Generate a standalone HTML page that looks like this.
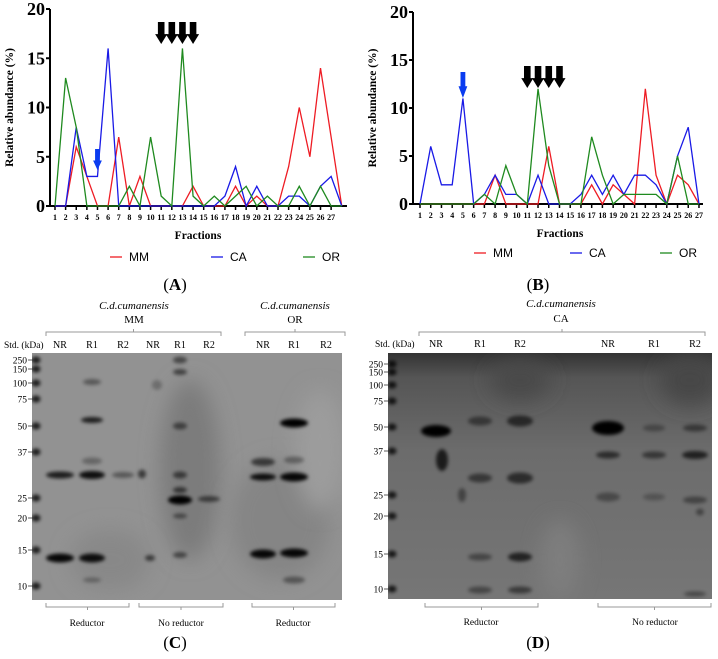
<!DOCTYPE html>
<html><head><meta charset="utf-8">
<style>
body{margin:0;background:#fff;width:718px;height:659px;overflow:hidden;font-family:"Liberation Serif",serif}
svg{position:absolute;left:0;top:0}
</style></head>
<body>
<svg id="fig" width="718" height="659" viewBox="0 0 718 659" xmlns="http://www.w3.org/2000/svg">
<defs>
<filter id="bl" x="-100%" y="-300%" width="300%" height="700%"><feGaussianBlur stdDeviation="1.8"/></filter>
<filter id="bl2" x="-100%" y="-100%" width="300%" height="300%"><feGaussianBlur stdDeviation="10"/></filter>
<linearGradient id="gD" x1="0" y1="0" x2="0" y2="1"><stop offset="0" stop-color="#333"/><stop offset="0.1" stop-color="#555"/><stop offset="0.4" stop-color="#6c6c6c"/><stop offset="1" stop-color="#767676"/></linearGradient>
</defs>
</svg>
<script>
// ---- Chart A data ----
const fractionsA = [1,2,3,4,5,6,7,8,9,10,11,12,13,14,15,16,17,18,19,20,21,22,23,24,25,26,27,28];
const mmA = [0,0,6,3,0,0,7,0,3,0,0,0,0,2,0,0,0,2,0,1,0,0,4,10,5,14,7,0];
const caA = [0,0,8,3,3,16,0,0,0,0,0,0,0,0,0,0,1,4,0,2,0,0,1,1,0,2,3,0];
const orA = [0,13,8,0,0,0,0,2,0,7,1,0,16,1,0,1,0,1,2,0,1,0,0,2,0,2,0,0];
// ---- Chart B data ----
const fractionsB = [1,2,3,4,5,6,7,8,9,10,11,12,13,14,15,16,17,18,19,20,21,22,23,24,25,26,27];
const mmB = [0,0,0,0,0,0,0,3,0,0,0,0,6,0,0,0,2,0,2,1,0,12,3,0,3,2,0];
const caB = [0,6,2,2,11,0,1,3,1,1,0,3,0,0,0,1,3,1,3,1,3,3,2,0,5,8,0];
const orB = [0,0,0,0,0,0,1,0,4,1,0,12,4,0,0,0,7,3,0,1,1,1,1,0,5,0,0];
const yTicks = [0,5,10,15,20];
const tickLabels = ['1','2','3','4','5','6','7','8','9','10','11','12','13','14','15','16','17','18','19','20','21','22','23','24','25','26','27'];

const NS='http://www.w3.org/2000/svg';
const svg=document.getElementById('fig');
function el(tag,attrs,parent,text){const e=document.createElementNS(NS,tag);for(const k in attrs)e.setAttribute(k,attrs[k]);if(text!==undefined)e.textContent=text;(parent||svg).appendChild(e);return e;}

function chart(cfg){
  const g=el('g',{});
  
  
  const X=f=>cfg.x1+(f-1)*cfg.dx;
  const Y=v=>cfg.y0-(v/20)*(cfg.y0-cfg.y20);
  const ya=el('line',{x1:cfg.ax,y1:cfg.y20,x2:cfg.ax,y2:cfg.y0,stroke:'#000','stroke-width':2},g);
  
  yTicks.forEach(t=>{
    el('line',{x1:cfg.ax-4,y1:Y(t),x2:cfg.ax,y2:Y(t),stroke:'#000','stroke-width':2},g);
    const tl=el('text',{x:cfg.ax-5,y:Y(t)+6,'text-anchor':'end','font-size':18,'font-weight':'bold'},g,String(t));
    
  });
  const xa=el('line',{x1:cfg.ax,y1:cfg.y0,x2:cfg.xend,y2:cfg.y0,stroke:'#000','stroke-width':2},g);
  
  tickLabels.forEach((t,i)=>{
    el('line',{x1:X(i+1),y1:cfg.y0,x2:X(i+1),y2:cfg.y0+4,stroke:'#000','stroke-width':1.5},g);
    const tl=el('text',{x:X(i+1),y:cfg.y0+14,'text-anchor':'middle','font-size':8,'font-weight':'bold'},g,t);
    
  });
  const yl=el('text',{x:0,y:0,transform:`translate(${cfg.ax-37},${(cfg.y0+cfg.y20)/2}) rotate(-90)`,'text-anchor':'middle','font-size':11.5,'font-weight':'bold'},g,'Relative abundance (%)');
  
  const xl=el('text',{x:cfg.ftx,y:cfg.y0+33,'text-anchor':'middle','font-size':11.5,'font-weight':'bold'},g,'Fractions');
  
  cfg.series.forEach(s=>{
    const pts=s.vals.map((v,i)=>X(cfg.fr[i])+','+Y(v)).join(' ');
    const p=el('polyline',{points:pts,fill:'none',stroke:s.color,'stroke-width':1.3},g);
    
  });
  cfg.series.forEach((s,i)=>{
    const lx=cfg.legX[i];
    const lg=el('g',{},g);
    
    el('line',{x1:lx,y1:cfg.legY,x2:lx+12,y2:cfg.legY,stroke:s.color,'stroke-width':1.3},lg);
    el('text',{x:lx+19,y:cfg.legY+4,'font-size':12,'font-family':'Liberation Sans, sans-serif'},lg,s.label);
  });
  const pl=el('text',{x:cfg.plx,y:cfg.ply,'text-anchor':'middle','font-size':17},g,'');
  pl.innerHTML='(<tspan font-weight="bold">'+cfg.panel+'</tspan>)';
  
  cfg.black.forEach(f=>arrow(g,X(f),cfg.arTop,cfg.arBot,'#000',11));
  arrow(g,X(cfg.blue),cfg.blTop,cfg.blBot,'#0a3cf0',8);
}
function arrow(g,x,t,b,c,w){
  const h=(b-t)*0.45;
  const a=el('path',{d:`M${x-w*0.3},${t} L${x+w*0.3},${t} L${x+w*0.3},${b-h} L${x+w*0.55},${b-h} L${x},${b} L${x-w*0.55},${b-h} L${x-w*0.3},${b-h} Z`,fill:c},g);
  
}
chart({name:'chart-a',panel:'A',ax:50,x1:55,dx:10.62,y0:206,y20:9,xend:347,fr:fractionsA,ftx:198,legY:257,legX:[110,211,303],plx:175,ply:290,
  series:[{label:'MM',color:'#ee1c24',vals:mmA},{label:'CA',color:'#1a1ae6',vals:caA},{label:'OR',color:'#1f8a1f',vals:orA}],
  black:[11,12,13,14],arTop:22,arBot:44,blue:5,blTop:149,blBot:170});
chart({name:'chart-b',panel:'B',ax:413,x1:420,dx:10.73,y0:204,y20:12,xend:703,fr:fractionsB,ftx:560,legY:253,legX:[474,570,660],plx:538,ply:290,
  series:[{label:'MM',color:'#ee1c24',vals:mmB},{label:'CA',color:'#1a1ae6',vals:caB},{label:'OR',color:'#1f8a1f',vals:orB}],
  black:[11,12,13,14],arTop:66,arBot:88,blue:5,blTop:72,blBot:98});

function gel(o){
  const g=el('g',{});
  
  el('rect',{x:o.x,y:o.y,width:o.w,height:o.h,fill:o.fill},g);
  const cl=el('clipPath',{id:'c'+o.name},g);el('rect',{x:o.x,y:o.y,width:o.w,height:o.h},cl);
  const bg=el('g',{'clip-path':`url(#c${o.name})`},g);
  o.smears.forEach(s=>el('ellipse',{cx:s[0],cy:s[1],rx:s[2],ry:s[3],fill:s[4],filter:'url(#bl2)'},bg));
  o.bands.forEach(b=>{const e=el('ellipse',{cx:b[0],cy:b[1],rx:b[2],ry:b[3],fill:'#000','fill-opacity':b[4],filter:'url(#bl)'},bg);
    });
  o.kda.forEach(k=>{
    el('ellipse',{cx:o.x+4,cy:k[1],rx:4.5,ry:3.5,fill:'#000','fill-opacity':0.8,filter:'url(#bl)'},bg);
    const t=el('text',{x:o.labX,y:k[1]+3.5,'text-anchor':'end','font-size':9.5},g,k[0]);
    
    el('line',{x1:o.labX+1,y1:k[1],x2:o.x+2,y2:k[1],stroke:'#333','stroke-width':0.8},g);
  });
  const st=el('text',{x:o.stdX,y:o.laneY,'font-size':9.5},g,'Std. (kDa)');
  
  o.lanes.forEach(l=>{const t=el('text',{x:l[0],y:o.laneY,'text-anchor':'middle','font-size':10},g,l[1]);
    });
  o.brackets.forEach(b=>{
    const d=b[3];
    el('path',{d:`M${b[0]},${b[2]+4*d} L${b[0]},${b[2]} L${b[1]},${b[2]} L${b[1]},${b[2]+4*d} M${(b[0]+b[1])/2},${b[2]} L${(b[0]+b[1])/2},${b[2]-3*d}`,fill:'none',stroke:'#999','stroke-width':1},g);
  });
  o.texts.forEach(t=>{const e=el('text',{x:t[0],y:t[1],'text-anchor':'middle','font-size':t[3]||10.5,'font-style':t[4]||'normal'},g,t[2]);
    });
  const pl=el('text',{x:o.plx,y:648,'text-anchor':'middle','font-size':17},g,'');
  pl.innerHTML='(<tspan font-weight="bold">'+o.panel+'</tspan>)';
  
}
gel({name:'gel-c',panel:'C',plx:175,x:32,y:353,w:310,h:247,fill:'#929292',labX:27,stdX:4,laneY:348,
  smears:[[190,470,30,90,'#7c7c7c'],[110,560,40,30,'#888'],[280,520,50,60,'#858585'],[320,450,25,60,'#9c9c9c']],
  kda:[['250',360],['150',369],['100',383],['75',399],['50',426],['37',452],['25',498],['20',518],['15',550],['10',586]],
  lanes:[[60,'NR'],[92,'R1'],[123,'R2'],[153,'NR'],[180,'R1'],[209,'R2'],[263,'NR'],[294,'R1'],[326,'R2']],
  bands:[[60,475,14,3.5,0.8],[60,558,14,4.5,0.95],[92,382,9,3,0.4],[92,420,11,3,0.8],[92,461,10,3.5,0.3],[92,475,13,4,0.9],[92,558,13,4.5,0.9],[92,580,9,2.5,0.3],
   [123,475,11,3,0.4],[142,474,4,4.5,0.6],[150,558,5,3,0.6],[180,360,7,3.5,0.5],[180,372,7,3,0.55],[180,426,7,3.5,0.5],[180,475,7,3.5,0.55],[180,490,7,3,0.6],[180,500,12,4.5,1],[180,516,7,2.5,0.45],[180,555,7,3,0.5],
   [157,385,5,5,0.25],[209,499,11,3,0.55],[263,462,12,4,0.6],[263,477,13,3.5,0.9],[263,554,13,4.5,0.95],[294,423,14,4.5,1],[294,460,10,3.5,0.35],[294,477,14,4.5,0.95],[294,553,14,4.5,0.95],[294,580,11,3.5,0.4]],
  brackets:[[46,221,332,1],[245,345,332,1],[46,129,607,-1],[139,223,607,-1],[252,335,607,-1]],
  texts:[[134,309,'C.d.cumanensis',11,'italic','species-label-mm'],[134,323,'MM',11,'normal','group-label-mm'],[295,309,'C.d.cumanensis',11,'italic','species-label-or'],[295,323,'OR',11,'normal','group-label-or'],
   [87,626,'Reductor',9.5,'normal','reductor-label'],[181,626,'No reductor',9.5,'normal','no-reductor-label'],[293,626,'Reductor',9.5,'normal','reductor-label-2']]});
gel({name:'gel-d',panel:'D',plx:538,x:388,y:353,w:324,h:246,fill:'url(#gD)',labX:383,stdX:375,laneY:347,
  smears:[[520,380,30,20,'#4a4a4a'],[690,380,30,25,'#464646'],[560,560,20,40,'#7e7e7e']],
  kda:[['250',364],['150',372],['100',385],['75',401],['50',427],['37',451],['25',495],['20',516],['15',554],['10',589]],
  lanes:[[436,'NR'],[480,'R1'],[520,'R2'],[608,'NR'],[654,'R1'],[695,'R2']],
  bands:[[436,431,15,6,1],[442,460,6,11,0.75],[480,421,12,4.5,0.45],[480,478,12,4.5,0.5],[462,495,4,7,0.4],[480,557,12,3.5,0.4],[480,590,12,3.5,0.4],
   [520,421,13,5.5,0.6],[520,478,13,5.5,0.6],[520,557,12,4.5,0.7],[520,590,12,3.5,0.5],[608,428,16,7,1],[608,455,12,3.5,0.6],[608,497,12,4.5,0.35],
   [654,428,11,3.5,0.3],[654,455,12,3.5,0.5],[654,497,11,3.5,0.25],[695,428,12,3.5,0.45],[695,455,13,4,0.7],[695,500,12,3.5,0.4],[700,512,4,3.5,0.4],[695,594,11,2.5,0.4]],
  brackets:[[419,705,332,1],[425,538,607,-1],[598,711,607,-1]],
  texts:[[561,307,'C.d.cumanensis',11,'italic','species-label-ca'],[561,322,'CA',11,'normal','group-label-ca'],
   [481,625,'Reductor',9.5,'normal','reductor-label'],[655,625,'No reductor',9.5,'normal','no-reductor-label']]});
</script>
</body></html>
